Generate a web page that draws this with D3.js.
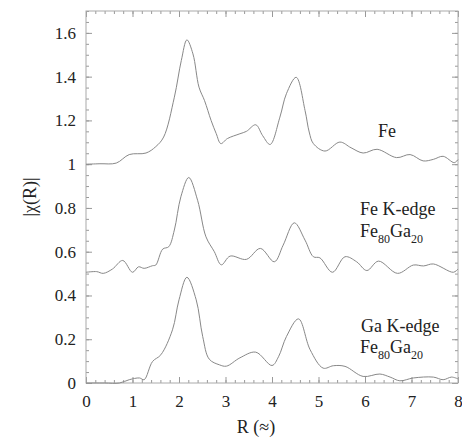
<!DOCTYPE html>
<html><head><meta charset="utf-8">
<script src="https://cdn.jsdelivr.net/npm/d3@7"></script>
<style>body{margin:0;background:#fff}svg{display:block}</style>
</head><body><svg id="c" width="462" height="440"></svg>
<script>
const feR = [0,0.3,0.65,0.93,1.29,1.5,1.67,1.9,2.05,2.17,2.3,2.43,2.55,2.69,2.8,2.9,3.04,3.31,3.45,3.65,3.8,3.96,4.17,4.31,4.52,4.71,4.8,4.89,5.14,5.46,5.7,5.96,6.26,6.68,6.97,7.25,7.47,7.68,7.92,8.0];
const feV = [1.0,1.002,1.005,1.044,1.051,1.08,1.124,1.306,1.474,1.568,1.504,1.352,1.29,1.2,1.14,1.094,1.117,1.139,1.15,1.18,1.13,1.09,1.215,1.322,1.397,1.246,1.147,1.094,1.06,1.101,1.075,1.051,1.068,1.03,1.044,1.015,1.022,1.036,1.007,1.021];

const feKR = [0,0.23,0.37,0.57,0.79,1.0,1.13,1.25,1.43,1.5,1.65,1.78,1.9,2.04,2.21,2.4,2.58,2.76,2.91,3.1,3.45,3.75,4.05,4.24,4.48,4.71,4.89,5.03,5.3,5.57,5.82,6.04,6.29,6.7,7.04,7.26,7.47,7.9,8.0];
const feKV = [0.506,0.509,0.501,0.521,0.56,0.506,0.531,0.524,0.536,0.539,0.612,0.623,0.699,0.851,0.939,0.835,0.668,0.6,0.54,0.58,0.565,0.615,0.554,0.63,0.732,0.653,0.577,0.572,0.506,0.577,0.554,0.514,0.557,0.501,0.539,0.535,0.544,0.506,0.521];

const gaKR = [0,0.4,0.72,0.93,1.15,1.25,1.43,1.61,1.86,2.0,2.17,2.37,2.51,2.65,2.87,3.02,3.31,3.65,4.0,4.14,4.31,4.57,4.82,5.1,5.32,5.57,5.96,6.32,6.54,6.75,7.04,7.47,7.68,7.86,8.0];
const gaKV = [0,0,0,0.015,0.023,0.015,0.098,0.129,0.243,0.38,0.483,0.38,0.212,0.109,0.083,0.077,0.115,0.141,0.08,0.12,0.212,0.293,0.152,0.068,0.079,0.076,0.03,0.041,0.027,0.01,0.023,0.027,0.015,0.027,0.019];

const xTicks = [0,1,2,3,4,5,6,7,8];
const yTicks = [0,0.2,0.4,0.6,0.8,1,1.2,1.4,1.6];

const FONT = "'Liberation Serif', 'DejaVu Serif', serif";
const svg = d3.select("#c");
const L=86,T=11,R=458,B=383;
const x = d3.scaleLinear().domain([0,8]).range([L,R]);
const y = d3.scaleLinear().domain([0,1.7]).range([B,T]);
const tickCol="#999";

function styleAxis(g){g.attr("font-family",FONT);g.select(".domain").remove();g.selectAll("line").attr("stroke",tickCol);g.selectAll("text").attr("font-family",FONT).style("font-family",FONT).style("font-size","17px").attr("fill","#222");}
const xMinor = d3.range(0,8.0001,0.2);
const yMinor = d3.range(0,1.7001,0.05);

svg.append("g").attr("transform",`translate(0,${B})`).call(d3.axisBottom(x).tickValues(xMinor).tickSize(-3).tickFormat("")).call(styleAxis);
svg.append("g").attr("transform",`translate(0,${T})`).call(d3.axisTop(x).tickValues(xMinor).tickSize(-3).tickFormat("")).call(styleAxis);
svg.append("g").attr("transform",`translate(${L},0)`).call(d3.axisLeft(y).tickValues(yMinor).tickSize(-3).tickFormat("")).call(styleAxis);
svg.append("g").attr("transform",`translate(${R},0)`).call(d3.axisRight(y).tickValues(yMinor).tickSize(-3).tickFormat("")).call(styleAxis);
svg.append("g").attr("transform",`translate(0,${B})`).call(d3.axisBottom(x).tickValues(xTicks).tickSize(-6).tickPadding(12).tickFormat(d3.format("d"))).call(styleAxis);
svg.append("g").attr("transform",`translate(0,${T})`).call(d3.axisTop(x).tickValues(xTicks).tickSize(-6).tickFormat("")).call(styleAxis);
svg.append("g").attr("transform",`translate(${L},0)`).call(d3.axisLeft(y).tickValues(yTicks).tickSize(-6).tickPadding(10).tickFormat(d=>d3.format("")(+d.toFixed(1)))).call(styleAxis);
svg.append("g").attr("transform",`translate(${R},0)`).call(d3.axisRight(y).tickValues(yTicks).tickSize(-6).tickFormat("")).call(styleAxis);

svg.append("rect").attr("x",L).attr("y",T).attr("width",R-L).attr("height",B-T).attr("fill","none").attr("stroke","#aaa").attr("stroke-width",1);

const line = d3.line().x(d=>x(d[0])).y(d=>y(d[1])).curve(d3.curveCatmullRom.alpha(0.5));
[[feR,feV],[feKR,feKV],[gaKR,gaKV]].forEach(([rs,vs])=>{
  svg.append("path").attr("d",line(rs.map((r,i)=>[r,vs[i]]))).attr("fill","none").attr("stroke","#888").attr("stroke-width",1);
});

function txt(){return svg.append("text").attr("font-family",FONT).style("font-family",FONT).attr("fill","#222");}
txt().attr("x",256).attr("y",433).attr("text-anchor","middle").style("font-size","18px").text("R (≈)");
txt().attr("transform","translate(36,197) rotate(-90)").attr("text-anchor","middle").style("font-size","18px").text("|χ(R)|");

function ann(xp,yp,parts){
  const t=txt().attr("x",xp).attr("y",yp).style("font-size","18px");
  parts.forEach(p=>{
    const s=t.append("tspan").text(p[0]);
    if(p[1]==="sub") s.style("font-size","12px").attr("dy",6);
    else if(p[1]==="up") s.attr("dy",-6);
  });
}
ann(378,137,[["Fe"]]);
ann(360,215,[["Fe K-edge"]]);
ann(360,237,[["Fe"],["80","sub"],["Ga","up"],["20","sub"]]);
ann(361,332,[["Ga K-edge"]]);
ann(360,353,[["Fe"],["80","sub"],["Ga","up"],["20","sub"]]);
</script></body></html>
